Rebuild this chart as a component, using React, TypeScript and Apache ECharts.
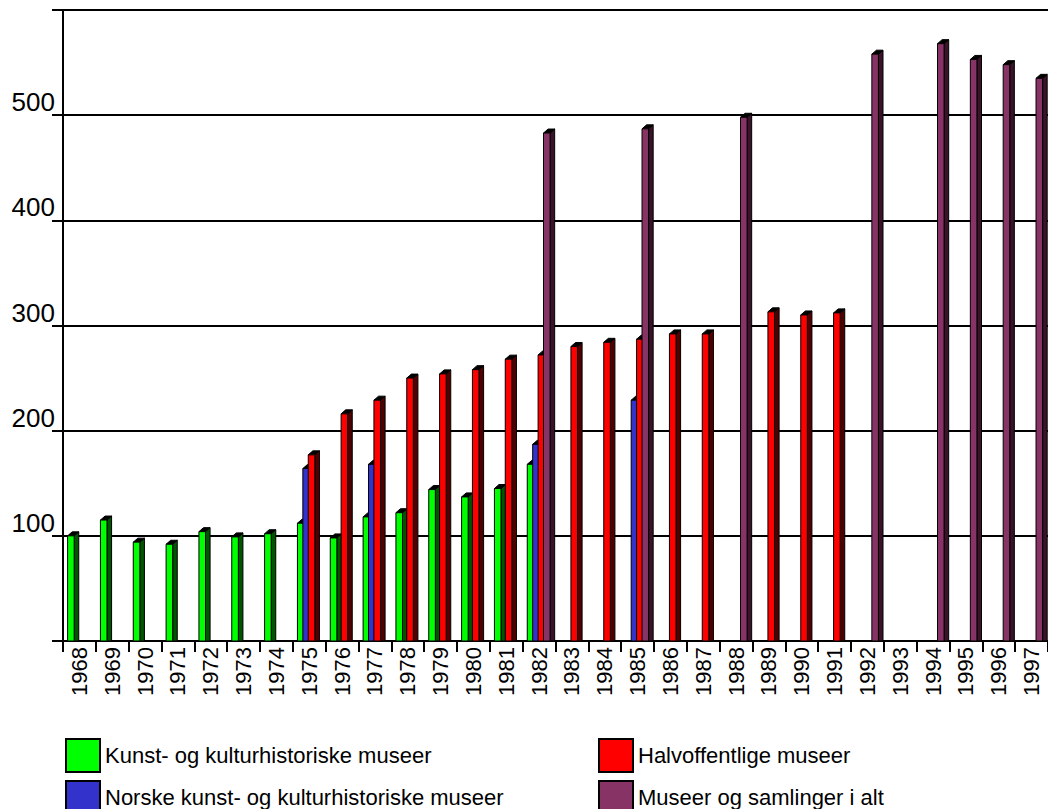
import React, { useEffect, useRef } from "react";
import * as echarts from "echarts";

const years = [
  "1968", "1969", "1970", "1971", "1972", "1973", "1974", "1975", "1976", "1977",
  "1978", "1979", "1980", "1981", "1982", "1983", "1984", "1985", "1986", "1987",
  "1988", "1989", "1990", "1991", "1992", "1993", "1994", "1995", "1996", "1997",
];

const seriesNames = [
  "Kunst- og kulturhistoriske museer",
  "Norske kunst- og kulturhistoriske museer",
  "Halvoffentlige museer",
  "Museer og samlinger i alt",
];

const kunstKultur = [
  100, 115, 94, 92, 104, 99, 102, 112, 98, 118,
  122, 144, 137, 145, 168, null, null, null, null, null,
  null, null, null, null, null, null, null, null, null, null,
];

const norskeKunst = [
  null, null, null, null, null, null, null, 164, null, 168,
  null, null, null, null, 187, null, null, 229, null, null,
  null, null, null, null, null, null, null, null, null, null,
];

const halvoffentlige = [
  null, null, null, null, null, null, null, 177, 216, 229,
  250, 254, 258, 268, 272, 280, 284, 287, 292, 292,
  null, 313, 310, 312, null, null, null, null, null, null,
];

const samlingerIAlt = [
  null, null, null, null, null, null, null, null, null, null,
  null, null, null, null, 483, null, null, 487, null, null,
  498, null, null, null, 558, null, 568, 553, 548, 535,
];

const yTicks = [0, 100, 200, 300, 400, 500, 600];

const FRONT = ["#00ff00", "#3333cc", "#ff0000", "#883366"];
const SIDE = ["#005500", "#14144a", "#500000", "#3a1229"];

function makeSeries(name: string, values: (number | null)[], idx: number) {
  return {
    type: "custom",
    name,
    data: values.map((v, i) => [i, v]).filter((d) => d[1] != null),
    encode: { x: 0, y: 1 },
    itemStyle: { color: FRONT[idx] },
    renderItem: (params: any, api: any) => {
      const c = api.value(0);
      const v = api.value(1);
      const p = api.coord([c, v]);
      const b = api.coord([c, 0]);
      const band = api.size([1, 0])[0];
      const x0 = p[0] - band / 2 + band * (0.14 + 0.165 * idx);
      const w = band * 0.2;
      const dx = band * 0.14;
      const dy = 4;
      const yT = p[1];
      const yB = b[1];
      return {
        type: "group",
        children: [
          {
            type: "polygon",
            shape: { points: [[x0 + w, yT], [x0 + w + dx, yT - dy], [x0 + w + dx, yB], [x0 + w, yB]] },
            style: { fill: SIDE[idx], stroke: "#000", lineWidth: 1 },
          },
          {
            type: "polygon",
            shape: { points: [[x0, yT], [x0 + dx, yT - dy], [x0 + w + dx, yT - dy], [x0 + w, yT]] },
            style: { fill: "#000", stroke: "#000", lineWidth: 1 },
          },
          {
            type: "rect",
            shape: { x: x0, y: yT, width: w, height: yB - yT },
            style: { fill: FRONT[idx], stroke: "#000", lineWidth: 1 },
          },
        ],
      };
    },
  };
}

export default function App() {
  const ref = useRef<HTMLDivElement>(null);
  useEffect(() => {
    if (!ref.current) return;
    const chart = echarts.init(ref.current, null, { renderer: "svg" });
    const font = "'Liberation Sans', Arial, sans-serif";
    const legendItem = (i: number) => ({
      name: seriesNames[i],
      icon: "rect",
      itemStyle: { color: FRONT[i], borderColor: "#000", borderWidth: 2 },
    });
    const legendBase = {
      top: 738, padding: 0, orient: "vertical", itemWidth: 34, itemHeight: 33, itemGap: 7,
      height: 120, width: 450,
      selectedMode: false,
      textStyle: { fontSize: 22, color: "#000", fontFamily: font },
    };
    chart.setOption({
      animation: false,
      backgroundColor: "#fff",
      grid: { left: 63, right: 0, top: 10, bottom: 168, containLabel: false },
      xAxis: {
        type: "category",
        data: years,
        boundaryGap: true,
        axisLine: { show: true, lineStyle: { color: "#000", width: 2 } },
        axisTick: { show: true, length: 11, lineStyle: { color: "#000", width: 2 } },
        axisLabel: { rotate: 90, interval: 0, fontSize: 22, color: "#000", fontFamily: font, margin: 6 },
        splitLine: { show: false },
      },
      yAxis: {
        type: "value",
        min: yTicks[0],
        max: yTicks[yTicks.length - 1],
        interval: 100,
        axisLine: { show: true, lineStyle: { color: "#000", width: 2 } },
        axisTick: { show: true, length: 11, lineStyle: { color: "#000", width: 2 } },
        axisLabel: {
          fontSize: 26,
          color: "#000",
          fontFamily: font,
          margin: 8,
          verticalAlign: "bottom",
          formatter: (v: number) => (v === yTicks[0] || v === yTicks[yTicks.length - 1] ? "" : String(v)),
        },
        splitLine: { show: true, lineStyle: { color: "#000", width: 2 } },
      },
      legend: [
        { ...legendBase, left: 65, data: [legendItem(0), legendItem(1)] },
        { ...legendBase, left: 598, data: [legendItem(2), legendItem(3)] },
      ],
      series: [
        makeSeries(seriesNames[0], kunstKultur, 0),
        makeSeries(seriesNames[1], norskeKunst, 1),
        makeSeries(seriesNames[2], halvoffentlige, 2),
        makeSeries(seriesNames[3], samlingerIAlt, 3),
      ],
    });
    return () => chart.dispose();
  }, []);
  return (
    <div
      ref={ref}
      style={{ position: "absolute", left: 0, top: 0, width: 1048, height: 809, background: "#fff" }}
    />
  );
}
